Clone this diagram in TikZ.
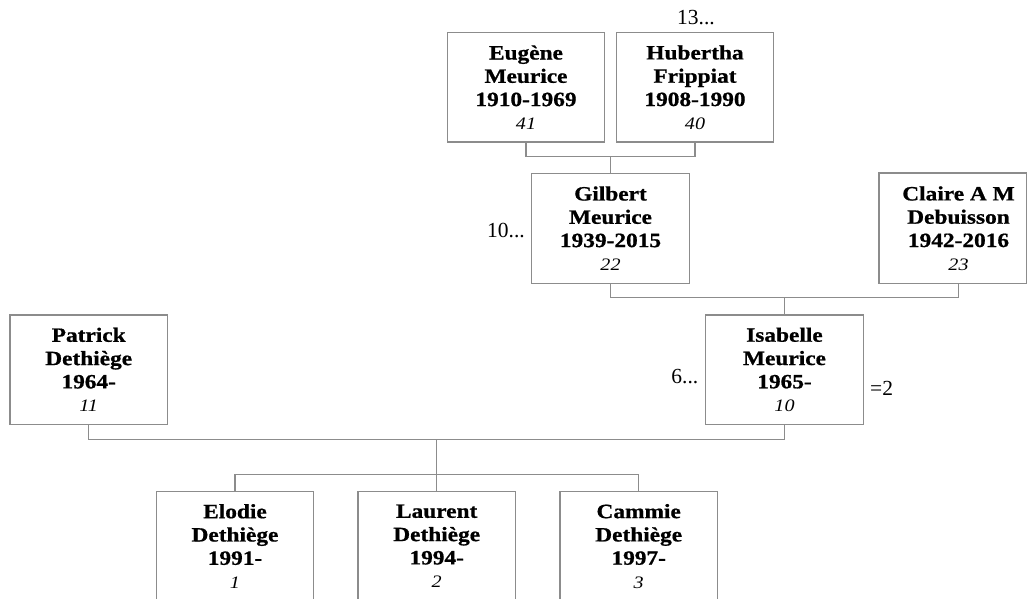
\documentclass[tikz,border=0pt]{standalone}
\usepackage{fontspec}
\setmainfont{Liberation Serif}[FakeStretch=1.15, BoldFeatures={FakeBold=0.8}]
\newfontfamily\sidefont{Liberation Serif}
\definecolor{linegray}{RGB}{140,140,140}
\tikzset{
  person/.style={draw=linegray, line width=1.3pt, minimum width=157.5pt, minimum height=109.5pt,
    inner sep=0pt, align=center, anchor=north, font=\fontsize{20.3}{23.3}\selectfont\bfseries},
  nobox/.style={person, draw=none},
  conn/.style={draw=linegray, line width=1.3pt},
  side/.style={font=\sidefont\fontsize{21.5}{24}\selectfont, inner sep=0pt}
}
\newcommand{\idnum}[1]{{\normalfont\itshape\fontsize{17.5}{23.3}\selectfont #1}}
\begin{document}
\begin{tikzpicture}[x=1pt,y=-1pt]
\useasboundingbox (0,0) rectangle (1031,599);
% generation 1
\node[person] (eug) at (526,32) {Eugène\\Meurice\\1910-1969\\\idnum{41}};
\node[person] (hub) at (695,32) {Hubertha\\Frippiat\\1908-1990\\\idnum{40}};
% generation 2
\node[person] (gil) at (610.5,173) {Gilbert\\Meurice\\1939-2015\\\idnum{22}};
\node[nobox] (cla) at (958.5,173) {Claire A M\\Debuisson\\1942-2016\\\idnum{23}};
\draw[conn] (cla.north west) rectangle ([xshift=-11.5pt]cla.south east);
% generation 3
\node[person] (pat) at (88.7,314.3) {Patrick\\Dethiège\\1964-\\\idnum{11}};
\node[person] (isa) at (784.5,314.3) {Isabelle\\Meurice\\1965-\\\idnum{10}};
% generation 4
\node[person] (elo) at (235,490.7) {Elodie\\Dethiège\\1991-\\\idnum{1}};
\node[person] (lau) at (436.7,490.7) {Laurent\\Dethiège\\1994-\\\idnum{2}};
\node[person] (cam) at (638.7,490.7) {Cammie\\Dethiège\\1997-\\\idnum{3}};
% side texts
\node[side, anchor=base] (t13) at (696,25) {13...};
\node[side, anchor=base east] (t10) at (525,237.3) {10...};
\node[side, anchor=base east] (t6) at (698.5,383.3) {6...};
\node[side, anchor=base west] (t2) at (870,395) {=2};
% connectors
\coordinate (m1) at (610.5,156.7);
\coordinate (m2) at (784.5,297.7);
\coordinate (m3) at (436.7,439.3);
\coordinate (m4) at (436.7,474.3);
\draw[conn] (eug.south) |- (m1) -| (hub.south);
\draw[conn] (m1) -- (gil.north);
\draw[conn] (gil.south) |- (m2) -| (cla.south);
\draw[conn] (m2) -- (isa.north);
\draw[conn] (pat.south) |- (m3) -| (isa.south);
\draw[conn] (m3) -- (lau.north);
\draw[conn] (elo.north) |- (m4) -| (cam.north);
\end{tikzpicture}
\end{document}
